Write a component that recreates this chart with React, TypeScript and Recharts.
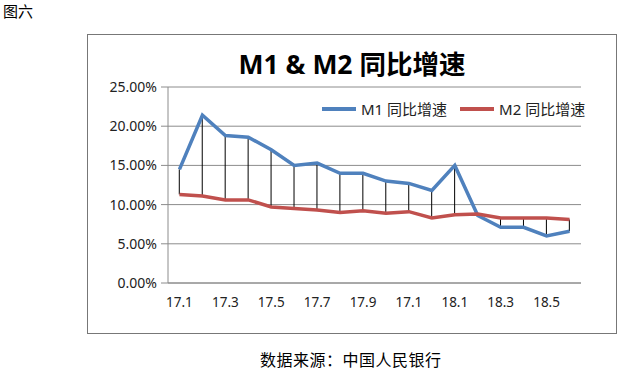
import React from "react";
import { ComposedChart, Line, Bar, XAxis, YAxis, CartesianGrid } from "recharts";

const categories = ["17.1","17.2","17.3","17.4","17.5","17.6","17.7","17.8","17.9","17.10","17.11","17.12","18.1","18.2","18.3","18.4","18.5","18.6"];
const xTickLabels = ["17.1","","17.3","","17.5","","17.7","","17.9","","17.1","","18.1","","18.3","","18.5",""];
const m1Values = [14.5, 21.4, 18.8, 18.6, 17.0, 15.0, 15.3, 14.0, 14.0, 13.0, 12.7, 11.8, 15.0, 8.6, 7.1, 7.1, 6.0, 6.6];
const m2Values = [11.3, 11.1, 10.6, 10.6, 9.7, 9.5, 9.3, 9.0, 9.2, 8.9, 9.1, 8.3, 8.7, 8.8, 8.3, 8.3, 8.3, 8.1];
const yTicks = [0, 5, 10, 15, 20, 25];
const seriesNames = ["M1 同比增速", "M2 同比增速"];
const seriesColors = ["#4f81bd", "#c0504d"];
const titleText = "M1 & M2 同比增速";
const figureLabel = "图六";
const sourceText = "数据来源：中国人民银行";

const data = categories.map((c, i) => ({
  cat: c,
  m1: m1Values[i],
  m2: m2Values[i],
  range: [Math.min(m1Values[i], m2Values[i]), Math.max(m1Values[i], m2Values[i])],
}));

const labelMap: Record<string, string> = {};
categories.forEach((c, i) => { labelMap[c] = xTickLabels[i]; });

const FONT = '"Noto Sans", "Noto Sans CJK SC", sans-serif';
const CJK = '"Noto Sans CJK SC", "Noto Sans", sans-serif';

const DropLine = (props: any) => {
  const { x, y, width, height } = props;
  if (x == null || y == null) return null;
  const cx = x + width / 2;
  return <line x1={cx} x2={cx} y1={y} y2={y + height} stroke="#000" strokeWidth={1} />;
};

export default function App() {
  return (
    <div style={{ position: "absolute", left: 0, top: 0, width: 622, height: 372, background: "#fff", overflow: "hidden" }}>
      <div style={{ position: "absolute", left: 3, top: 1, fontSize: 15, fontFamily: CJK, color: "#000", lineHeight: "20px" }}>{figureLabel}</div>
      <div style={{ position: "absolute", left: 87, top: 34, width: 530, height: 300, border: "1px solid #777", boxSizing: "border-box" }} />
      <div style={{ position: "absolute", left: 0, top: 0 }}>
        <ComposedChart width={622} height={372} data={data} margin={{ top: 87, right: 41, bottom: 59, left: 108 }}>
          <CartesianGrid horizontal={true} vertical={false} stroke="#8c8c8c" strokeWidth={1} />
          <XAxis
            dataKey="cat"
            interval={0}
            height={30}
            tickLine={false}
            tickSize={0}
            tickMargin={14}
            axisLine={{ stroke: "#8c8c8c" }}
            tickFormatter={(v: any) => labelMap[v] ?? ""}
            tick={{ fontSize: 13.5, fill: "#222", fontFamily: FONT }}
          />
          <YAxis
            width={60}
            domain={[0, 25]}
            ticks={yTicks}
            tickSize={7}
            tickMargin={4}
            tickLine={{ stroke: "#8c8c8c" }}
            axisLine={{ stroke: "#8c8c8c" }}
            tickFormatter={(v: number) => v.toFixed(2) + "%"}
            tick={{ fontSize: 14, fill: "#222", fontFamily: FONT }}
          />
          <Bar dataKey="range" legendType="none" shape={<DropLine />} isAnimationActive={false} />
          <Line type="linear" dataKey="m1" name={seriesNames[0]} stroke={seriesColors[0]} strokeWidth={3.5} dot={false} isAnimationActive={false} />
          <Line type="linear" dataKey="m2" name={seriesNames[1]} stroke={seriesColors[1]} strokeWidth={3.5} dot={false} isAnimationActive={false} />
        </ComposedChart>
      </div>
      <div style={{ position: "absolute", left: 322, top: 99, display: "flex", alignItems: "center", fontFamily: FONT, fontSize: 15, color: "#222" }}>
        {seriesNames.map((n, i) => (
          <div key={i} style={{ display: "flex", alignItems: "center", marginRight: 13 }}>
            <div style={{ width: 34, height: 4, background: seriesColors[i], marginRight: 5 }} />
            <span style={{ whiteSpace: "nowrap", lineHeight: "20px" }}>{n}</span>
          </div>
        ))}
      </div>
      <div style={{ position: "absolute", left: 352, top: 48, transform: "translateX(-50%)", fontSize: 26.5, fontWeight: 700, fontFamily: FONT, color: "#000", whiteSpace: "nowrap", lineHeight: "32px" }}>{titleText}</div>
      <div style={{ position: "absolute", left: 260, top: 349, fontSize: 16, letterSpacing: 0.5, fontFamily: CJK, color: "#000", whiteSpace: "nowrap", lineHeight: "20px" }}>{sourceText}</div>
    </div>
  );
}
